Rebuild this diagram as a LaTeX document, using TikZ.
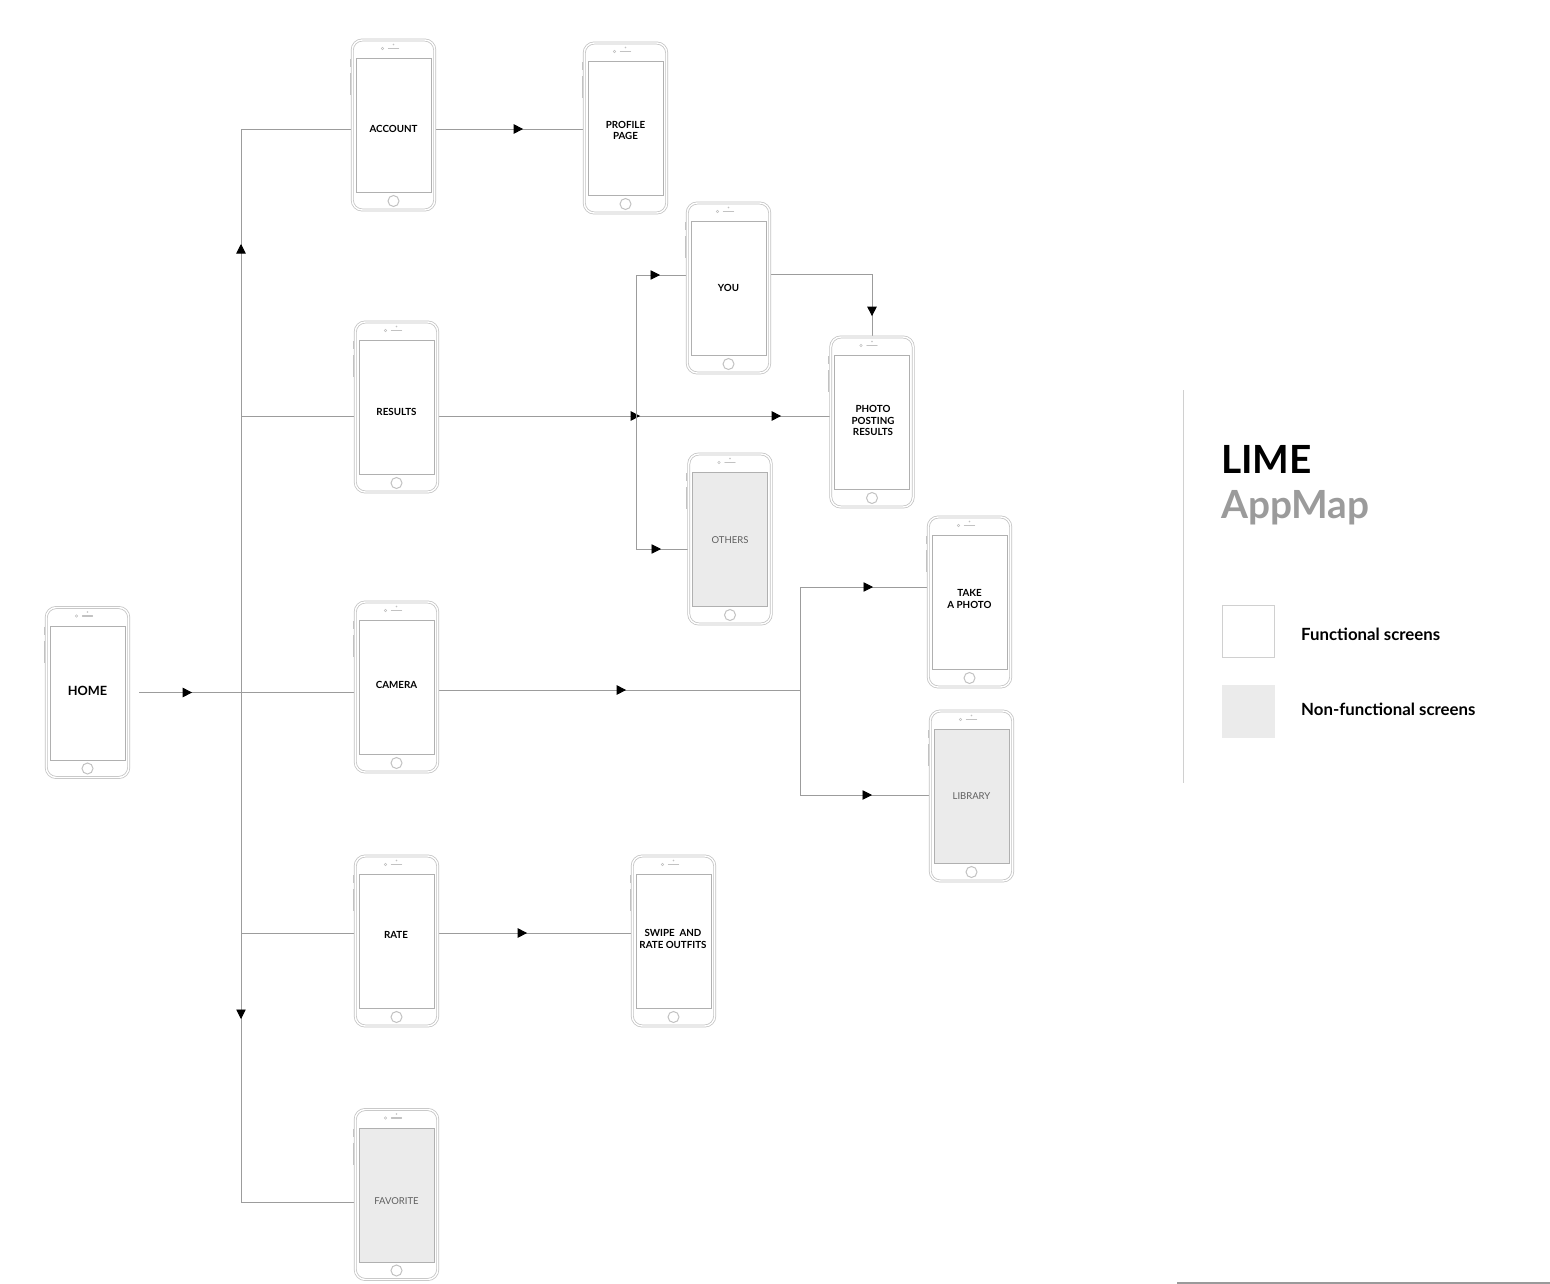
\documentclass[tikz,border=0pt]{standalone}
\usepackage{fontspec}
\setmainfont{Lato}
\usetikzlibrary{arrows.meta,decorations.markings}
\definecolor{phoneline}{HTML}{C2C2C2}
\definecolor{screenline}{HTML}{B0B0B0}
\definecolor{conncol}{HTML}{9C9C9C}
\definecolor{scrfill}{HTML}{EBEBEB}
\definecolor{greytext}{HTML}{5E5E5E}
\definecolor{appgrey}{HTML}{9B9B9B}
\definecolor{legline}{HTML}{D0D0D0}
\definecolor{botline}{HTML}{9A9A9A}
\pgfdeclarelayer{bg}
\pgfsetlayers{bg,main}
\tikzset{
  phone/.style={rectangle, draw=phoneline, double=white, double distance=1.4pt,
    line width=0.75pt, rounded corners=10pt, minimum width=82.5pt,
    minimum height=170pt, inner sep=0pt, fill=white},
  conn/.style={draw=conncol, line width=0.9pt},
  marrow/.style={postaction={decorate, decoration={markings,
    mark=at position #1 with {\arrow{Triangle[length=9.5pt,width=9.5pt,color=black]}}}}},
  lbl/.style={font=\fontsize{9.8}{11.5}\selectfont\bfseries, align=center,
    text=black, inner sep=0pt},
  glbl/.style={font=\fontsize{9.5}{11.5}\selectfont, text=greytext,
    align=center, inner sep=0pt},
  legtxt/.style={font=\fontsize{16.8}{19}\selectfont\bfseries, anchor=base west,
    inner sep=0pt},
  titletxt/.style={font=\fontsize{38.8}{42}\selectfont\bfseries, anchor=base west,
    inner sep=0pt},
}
\newcommand\phoneparts[2]{%
  \begin{scope}[shift={(#1.center)}]
    \draw[draw=screenline, fill=#2, line width=0.8pt] (-37.5,-66.5) rectangle (37.5,67.5);
    \draw[draw=phoneline, line width=1pt] (0,76) circle (5.5pt);
    \draw[draw=phoneline, line width=1.1pt, line cap=round] (-5,-76.5) -- (5,-76.5);
    \draw[draw=phoneline, line width=0.6pt] (-11,-76.5) circle (1.2pt);
    \fill[phoneline] (0,-80.5) circle (0.8pt);
    \draw[draw=phoneline, line width=1pt] (-43.5,-66) -- (-43.5,-58);
    \draw[draw=phoneline, line width=1pt] (-43.5,-52) -- (-43.5,-30);
  \end{scope}}
\begin{document}
\begin{tikzpicture}[x=1pt,y=-1pt]
\useasboundingbox (0,0) rectangle (1550,1284);

% phones
\node[phone] (home)  at (87.5,692.5) {};
\node[phone] (acc)   at (393.5,125) {};
\node[phone] (prof)  at (625.5,128) {};
\node[phone] (you)   at (728.5,288) {};
\node[phone] (res)   at (396.5,407) {};
\node[phone] (ppr)   at (872,422) {};
\node[phone] (oth)   at (730,539) {};
\node[phone] (take)  at (969.5,602) {};
\node[phone] (cam)   at (396.5,687) {};
\node[phone] (lib)   at (971.5,796) {};
\node[phone] (rate)  at (396.5,941) {};
\node[phone] (swipe) at (673.5,941) {};
\node[phone] (fav)   at (396.5,1194.5) {};

\phoneparts{home}{white}
\phoneparts{acc}{white}
\phoneparts{prof}{white}
\phoneparts{you}{white}
\phoneparts{res}{white}
\phoneparts{ppr}{white}
\phoneparts{oth}{scrfill}
\phoneparts{take}{white}
\phoneparts{cam}{white}
\phoneparts{lib}{scrfill}
\phoneparts{rate}{white}
\phoneparts{swipe}{white}
\phoneparts{fav}{scrfill}

% labels
\node[font=\fontsize{12.7}{14}\selectfont\bfseries, inner sep=0pt] (homeL) at (87.5,691) {HOME};
\node[lbl] (accL)   at (393.5,129) {ACCOUNT};
\node[lbl] (profL)  at (625.5,130.5) {PROFILE\\PAGE};
\node[lbl] (youL)   at (728.5,288) {YOU};
\node[lbl] (resL)   at (396.5,412) {RESULTS};
\node[lbl] (pprL)   at (873,420.5) {PHOTO\\POSTING\\RESULTS};
\node[glbl] (othL)  at (730,540) {OTHERS};
\node[lbl] (takeL)  at (969.5,599) {TAKE\\A PHOTO};
\node[lbl] (camL)   at (396.5,685) {CAMERA};
\node[glbl] (libL)  at (971.5,796) {LIBRARY};
\node[lbl] (rateL)  at (396,935) {RATE};
\node[lbl] (swipeL) at (673,939) {SWIPE\ \ AND\\RATE OUTFITS};
\node[glbl] (favL)  at (396.5,1201) {FAVORITE};

% junction coordinates
\coordinate (tA)  at (241,129);
\coordinate (tR)  at (241,416);
\coordinate (tH)  at (241,692);
\coordinate (tRa) at (241,933);
\coordinate (tF)  at (241,1202);
\coordinate (bR)  at (636,416);
\coordinate (bY)  at (636,275);
\coordinate (bO)  at (636,549);
\coordinate (yc)  at (872,274);
\coordinate (bC)  at (800,690);
\coordinate (bT)  at (800,587);
\coordinate (bL)  at (800,795);

\begin{pgfonlayer}{bg}
  \draw[conn, marrow=53pt] ([xshift=10pt]home.east) -- (cam.west |- home.east);
  \draw[conn, marrow=448pt] (tH) -- (tA);
  \draw[conn, marrow=327pt] (tH) -- (tF);
  \draw[conn] (tA) -- (tA -| acc.west);
  \draw[conn] (tR) -- (tR -| res.west);
  \draw[conn] (tRa) -- (tRa -| rate.west);
  \draw[conn] (tF) -- (tF -| fav.west);
  \draw[conn, marrow=88pt] (tA -| acc.east) -- (tA -| prof.west);
  \draw[conn, marrow=202pt, marrow=343pt] (tR -| res.east) -- (tR -| ppr.west);
  \draw[conn] (bY) -- (bO);
  \draw[conn, marrow=24pt] (bY) -- (bY -| you.west);
  \draw[conn, marrow=25pt] (bO) -- (bO -| oth.west);
  \draw[conn, marrow=144pt] (you.east |- yc) -- (yc) -- (ppr.north -| yc);
  \draw[conn, marrow=188pt] (bC -| cam.east) -- (bC);
  \draw[conn] (bT) -- (bL);
  \draw[conn, marrow=73pt] (bT) -- (bT -| take.west);
  \draw[conn, marrow=72pt] (bL) -- (bL -| lib.west);
  \draw[conn, marrow=89pt] (tRa -| rate.east) -- (tRa -| swipe.west);
\end{pgfonlayer}

% legend
\draw[draw=legline, line width=1pt] (1183,390) -- (1183,783);
\node[titletxt] (lime) at (1221,473) {LIME};
\node[titletxt, text=appgrey] (appmap) at (1221,518) {AppMap};
\node[draw=legline, line width=1pt, fill=white, minimum width=52pt, minimum height=52pt, inner sep=0pt] (lgf) at (1248.5,631.5) {};
\node[fill=scrfill, minimum width=53pt, minimum height=53pt, inner sep=0pt] (lgn) at (1248.5,711) {};
\node[legtxt] (lt1) at (1301,640) {Functional screens};
\node[legtxt] (lt2) at (1301,715) {Non-functional screens};
\draw[draw=botline, line width=1.5pt] (1177,1283) -- (1550,1283);
\end{tikzpicture}
\end{document}
